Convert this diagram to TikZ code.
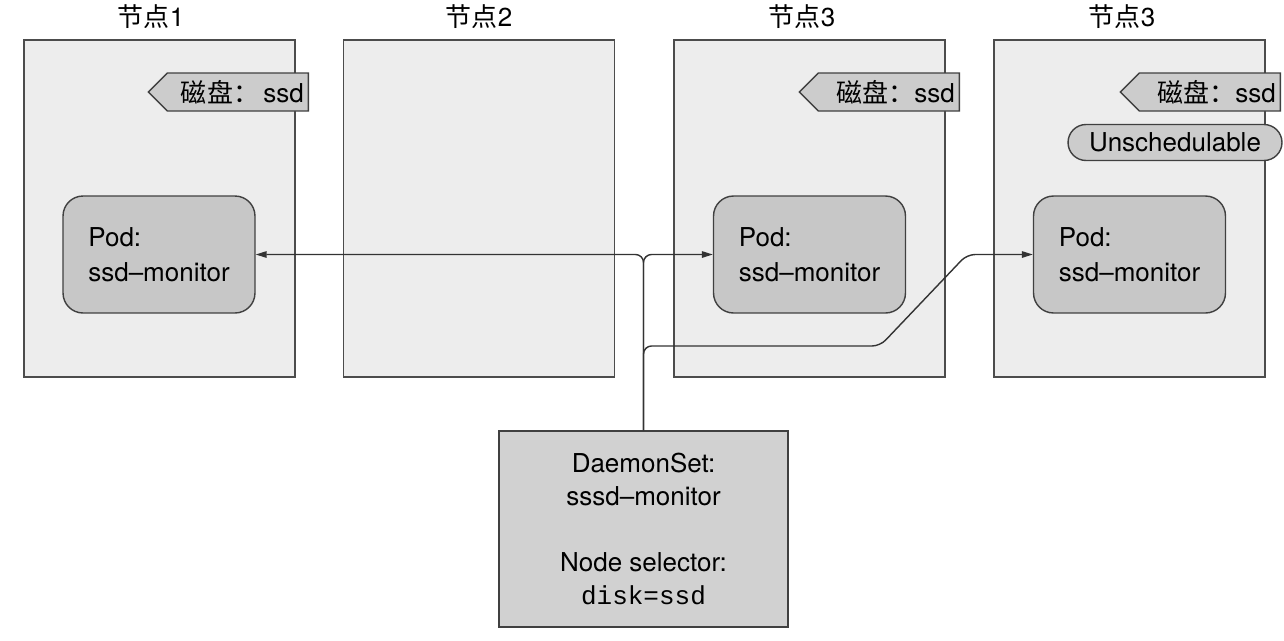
\documentclass[tikz,border=0pt]{standalone}
\usepackage{fontspec}
\setmainfont{TeX Gyre Heros}
\setmonofont{Liberation Mono}
\newfontfamily\cjk{Noto Sans CJK SC}
\usetikzlibrary{arrows.meta,shapes.symbols}

\begin{document}
\begin{tikzpicture}[x=0.02cm,y=-0.02cm,
	font=\fontsize{14.8}{18.8}\selectfont,
	nodebox/.style={draw=black!70,fill=black!7,line width=0.8pt,minimum width=5.42cm,minimum height=6.74cm},
	podbox/.style={draw=black!75,fill=black!22,line width=0.8pt,rounded corners=0.4cm,minimum width=3.84cm,minimum height=2.34cm,align=left,font=\fontsize{14.8}{19.9}\selectfont},
	disktag/.style={shape=signal,signal to=west,draw=black!75,fill=black!20,line width=0.8pt,minimum height=0.76cm,text width=2.64cm,align=right,inner xsep=0.09cm,anchor=east},
	pill/.style={draw=black!75,fill=black!20,line width=0.8pt,rounded corners=0.36cm,minimum width=4.28cm,minimum height=0.72cm},
	dsbox/.style={draw=black!75,fill=black!18,line width=0.8pt,minimum width=5.78cm,minimum height=3.92cm,align=center},
	title/.style={anchor=south,inner sep=0pt},
	conn/.style={draw=black!80,line width=0.8pt,rounded corners=0.16cm},
	tip/.style={-{Triangle[length=0.22cm,width=0.13cm]}}]
	
	\useasboundingbox (0,0) rectangle (1284,640);
	
	% Cluster nodes
	\node[nodebox] (n1) at (159.5,208.5) {};
	\node[nodebox] (n2) at (479,208.5) {};
	\node[nodebox] (n3) at (809.5,208.5) {};
	\node[nodebox] (n4) at (1129.5,208.5) {};
	\node[title] (t1) at (151,29) {{\cjk 节点}1};
	\node[title] (t2) at (479,29) {{\cjk 节点}2};
	\node[title] (t3) at (802,29) {{\cjk 节点}3};
	\node[title] (t4) at (1122,29) {{\cjk 节点}3};
	
	% Disk labels
	\node[disktag] (tag1) at (309,92) {{\cjk 磁盘：}\,ssd};
	\node[disktag] (tag3) at (960,92) {{\cjk 磁盘：}ssd};
	\node[disktag] (tag4) at (1281,92) {{\cjk 磁盘：}ssd};
	\node[pill] (unsched) at (1175,142.5) {Unschedulable};
	
	% Pods
	\node[podbox] (pod1) at (159,254.5) {Pod:\\ssd–monitor};
	\node[podbox] (pod3) at (809.5,254.5) {Pod:\\ssd–monitor};
	\node[podbox] (pod4) at (1129.5,254.5) {Pod:\\ssd–monitor};
	
	% DaemonSet
	\node[dsbox] (ds) at (643.5,529) {DaemonSet:\\sssd–monitor\\[0.66cm]Node selector:\\\texttt{disk=ssd}};
	
	% Connections
	\coordinate (low) at (880,346);
	\coordinate (rise) at (967,254.5);
	\draw[conn,tip] (ds.north) |- (pod1.east);
	\draw[conn,tip] (ds.north) |- (pod3.west);
	\draw[conn,tip] (ds.north) |- (low) -- (rise) -- (pod4.west);
	
\end{tikzpicture}
\end{document}
